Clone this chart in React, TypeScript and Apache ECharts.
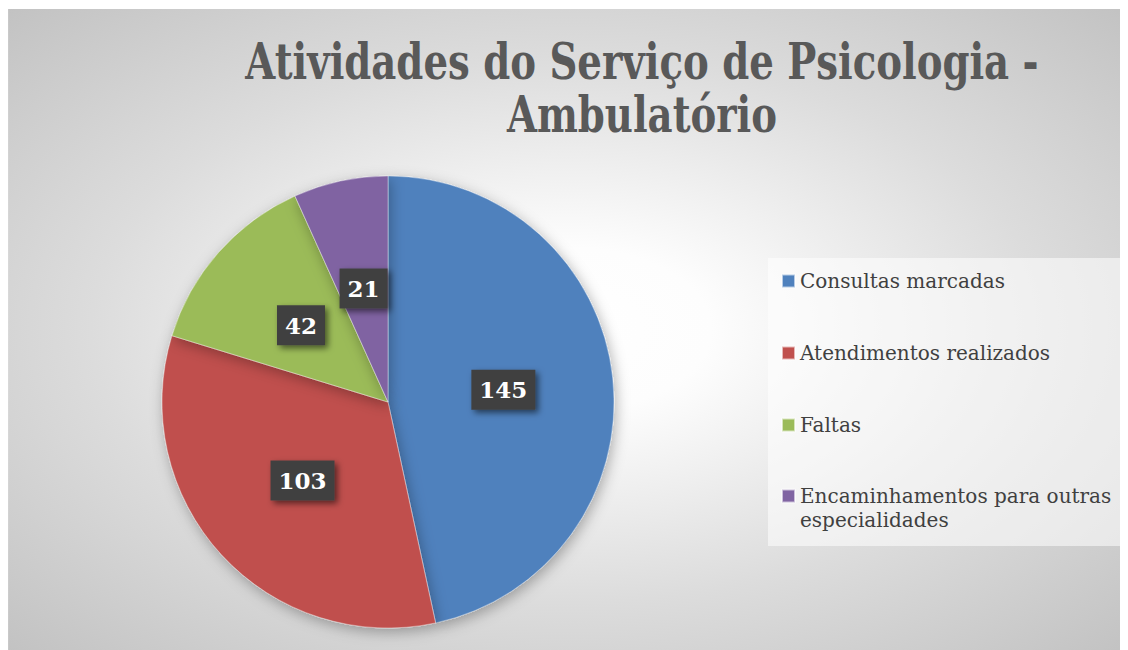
import React, { useEffect, useRef } from "react";
import * as echarts from "echarts";

const categories = [
  "Consultas marcadas",
  "Atendimentos realizados",
  "Faltas",
  "Encaminhamentos para outras especialidades",
];
const values = [145, 103, 42, 21];
const colors = ["#4F81BD", "#C0504D", "#9BBB59", "#8064A2"];
const titleLines = ["Atividades do Serviço de Psicologia -", "Ambulatório"];

export default function App() {
  const ref = useRef<HTMLDivElement>(null);
  useEffect(() => {
    if (!ref.current) return;
    const chart = echarts.init(ref.current, undefined, { renderer: "svg" });
    const legendText = {
      fontFamily: "DejaVu Serif",
      fontSize: 20,
      color: "#404040",
      lineHeight: 24,
    };
    chart.setOption({
      animation: false,
      color: colors,
      graphic: [
        {
          type: "rect",
          x: 560,
          y: 321.5,
          scaleX: 1120 / 641,
          z: -10,
          silent: true,
          shape: { x: -320.5, y: -320.5, width: 641, height: 641 },
          style: {
            fill: {
              type: "radial",
              x: 0.5,
              y: 0.5,
              r: 0.71,
              colorStops: [
                { offset: 0, color: "#ffffff" },
                { offset: 0.18, color: "#fdfdfd" },
                { offset: 0.6, color: "#dcdcdc" },
                { offset: 1, color: "#c2c2c2" },
              ],
            },
          },
        },
        {
          type: "rect",
          z: -5,
          silent: true,
          shape: { x: 760, y: 250, width: 356, height: 288 },
          style: { fill: "rgba(255,255,255,0.55)" },
        },
        {
          type: "text",
          x: 634,
          y: 27,
          scaleX: 0.773,
          z: 10,
          style: {
            text: titleLines.join("\n"),
            font: 'bold 50px "DejaVu Serif"',
            fill: "#595959",
            align: "center",
            verticalAlign: "top",
            lineHeight: 53,
          },
        },
      ],
      legend: [
        {
          orient: "vertical",
          left: 773,
          top: 261,
          padding: 0,
          itemGap: 48,
          itemWidth: 13,
          itemHeight: 13,
          icon: "rect",
          data: categories.slice(0, 3),
          textStyle: legendText,
        },
        {
          orient: "vertical",
          left: 773,
          top: 452,
          padding: 0,
          itemWidth: 13,
          itemHeight: 13,
          icon: "rect",
          data: categories.slice(3),
          formatter: (name: string) => {
            const i = name.indexOf(" especialidades");
            return "\n" + name.slice(0, i) + "\n" + name.slice(i + 1);
          },
          textStyle: legendText,
        },
      ],
      series: [
        {
          type: "pie",
          center: [380, 394],
          radius: 226,
          startAngle: 90,
          clockwise: true,
          avoidLabelOverlap: false,
          itemStyle: {
            borderColor: "rgba(255,255,255,0.6)",
            borderWidth: 0.6,
            shadowBlur: 14,
            shadowColor: "rgba(0,0,0,0.3)",
            shadowOffsetX: 2,
            shadowOffsetY: 4,
          },
          emphasis: { disabled: true },
          label: {
            show: true,
            position: "inside",
            formatter: "{c}",
            color: "#ffffff",
            fontFamily: "DejaVu Serif",
            fontWeight: "bold",
            fontSize: 23,
            lineHeight: 24,
            backgroundColor: "#404040",
            padding: [8, 8],
            shadowColor: "rgba(0,0,0,0.55)",
            shadowBlur: 6,
            shadowOffsetX: 3,
            shadowOffsetY: 3,
          },
          labelLine: { show: false },
          data: categories.map((name, i) => ({ name, value: values[i] })),
        },
      ],
    });
    return () => chart.dispose();
  }, []);
  return <div ref={ref} style={{ width: 1120, height: 642 }} />;
}
